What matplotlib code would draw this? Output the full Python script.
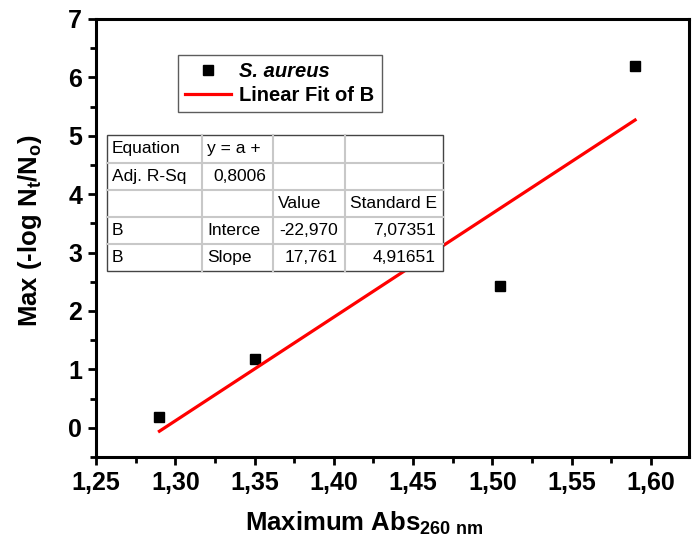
import numpy as np
import matplotlib
matplotlib.use("Agg")
import matplotlib.pyplot as plt
from matplotlib.lines import Line2D
from matplotlib.patches import Rectangle

plt.rcParams['font.family'] = ['Liberation Sans', 'DejaVu Sans']
plt.rcParams['mathtext.fontset'] = 'custom'
plt.rcParams['mathtext.rm'] = 'Liberation Sans:bold'
plt.rcParams['mathtext.bf'] = 'Liberation Sans:bold'
plt.rcParams['mathtext.it'] = 'Liberation Sans:bold'

# ---- data ----
abs260 = [1.29, 1.35, 1.505, 1.59]
max_log = [0.18, 1.18, 2.42, 6.2]
fit_intercept = -22.970
fit_slope = 17.761
x_ticks = [1.25, 1.30, 1.35, 1.40, 1.45, 1.50, 1.55, 1.60]
x_ticklabels = ["1,25", "1,30", "1,35", "1,40", "1,45", "1,50", "1,55", "1,60"]
y_ticks = [0, 1, 2, 3, 4, 5, 6, 7]
table_cells = [["Equation", "y = a +", "", ""],
               ["Adj. R-Sq", "0,8006", "", ""],
               ["", "", "Value", "Standard E"],
               ["B", "Interce", "-22,970", "7,07351"],
               ["B", "Slope", "17,761", "4,91651"]]
table_align = [["l", "l", "l", "l"],
               ["l", "r", "l", "l"],
               ["l", "l", "l", "l"],
               ["l", "l", "r", "r"],
               ["l", "l", "r", "r"]]

W, H = 692, 552
fig = plt.figure(figsize=(W / 100, H / 100), dpi=100)
ax = fig.add_axes([96 / W, 1 - 457 / H, (689 - 96) / W, (457 - 19) / H])

ax.plot(abs260, max_log, 's', color='black', markersize=7.5, linestyle='none',
        label=r'S. aureus')
fx = np.array([min(abs260), max(abs260)])
ax.plot(fx, fit_intercept + fit_slope * fx, color='#ff0000', lw=2.3,
        label='Linear Fit of B')

ax.set_xlim(1.25, 1.624)
ax.set_ylim(-0.5, 7)
ax.set_xticks(x_ticks)
ax.set_xticklabels(x_ticklabels)
ax.set_yticks(y_ticks)
ax.set_xticks(np.arange(1.275, 1.62, 0.05), minor=True)
ax.set_yticks(np.arange(-0.5, 7.0, 1.0), minor=True)
for s in ax.spines.values():
    s.set_linewidth(2.2)
ax.tick_params(which='major', direction='out', length=6, width=2, labelsize=18, pad=4)
ax.tick_params(which='minor', direction='out', length=4, width=2)
for lab in ax.get_xticklabels() + ax.get_yticklabels():
    lab.set_fontweight('bold')

ax.set_xlabel(r'Maximum Abs$_{\mathbf{260\ nm}}$', fontsize=18.5, fontweight='bold')
ax.xaxis.set_label_coords((364.5 - 96) / 593, (457 - 510) / 438)
ax.set_ylabel(r'Max (-log N$_{\mathbf{t}}$/N$_{\mathbf{o}}$)', fontsize=18.5, fontweight='bold')
ax.yaxis.set_label_coords((44 - 96) / 593, (457 - 231) / 438)

# legend
leg = ax.legend(loc='upper left', bbox_to_anchor=(178 / W, 1 - 55 / H),
                bbox_transform=fig.transFigure, borderaxespad=0, fancybox=False,
                frameon=True, handlelength=2.3, handletextpad=0.4, borderpad=0.35,
                labelspacing=0.25, prop={'size': 14.5, 'weight': 'bold'})
leg.get_frame().set_edgecolor('#333333')
leg.get_frame().set_linewidth(1.0)
leg.get_texts()[0].set_fontstyle('italic')

# table drawn in figure pixels
col_edges = [107, 202, 273, 345, 443]
row_edges = [135, 163, 190, 217, 244, 271]
def P(x, y):
    return x / W, 1 - y / H
for xe in col_edges[1:-1]:
    fig.add_artist(Line2D([xe / W, xe / W], [1 - row_edges[0] / H, 1 - row_edges[-1] / H],
                          color='#c8c8c8', lw=1.5, zorder=5))
for ye in row_edges[1:-1]:
    fig.add_artist(Line2D([col_edges[0] / W, col_edges[-1] / W], [1 - ye / H, 1 - ye / H],
                          color='#c8c8c8', lw=1.5, zorder=5))
fig.add_artist(Rectangle(P(col_edges[0], row_edges[-1]), (col_edges[-1] - col_edges[0]) / W,
                         (row_edges[-1] - row_edges[0]) / H, transform=fig.transFigure,
                         facecolor='white', edgecolor='#444444', lw=1.0, zorder=4))
for r, row in enumerate(table_cells):
    yc = (row_edges[r] + row_edges[r + 1]) / 2
    for c, txt in enumerate(row):
        if not txt:
            continue
        if table_align[r][c] == 'l':
            x = col_edges[c] + 5
            ha = 'left'
        else:
            x = col_edges[c + 1] - 7
            ha = 'right'
        fig.text(*P(x, yc), txt, ha=ha, va='center', fontsize=12.5, zorder=6)

fig.savefig('out.png', dpi=100)
